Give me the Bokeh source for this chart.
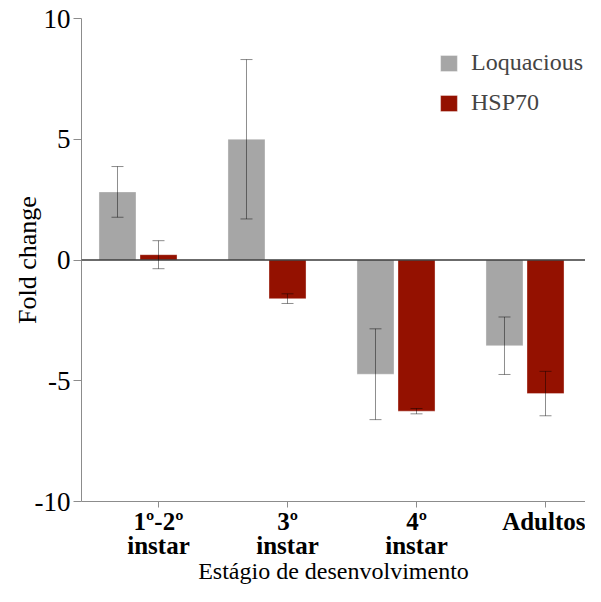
from bokeh.plotting import figure
from bokeh.models import (ColumnDataSource, Whisker, FixedTicker, Legend, LegendItem,
                          Span, Range1d, TeeHead)
from bokeh.embed import file_html
from bokeh.resources import INLINE

# ---- data ----
categories = ["1º-2º\ninstar", "3º\ninstar", "4º\ninstar", "Adultos"]
loquacious = [2.82, 5.0, -4.73, -3.55]
loquacious_err = [1.05, 3.3, 1.88, 1.19]
hsp70 = [0.22, -1.6, -6.26, -5.53]
hsp70_err = [0.58, 0.2, 0.11, 0.92]
y_ticks = [-10, -5, 0, 5, 10]
x_title = "Estágio de desenvolvimento"
y_title = "Fold change"

FONT = "Liberation Serif"
GRAY = "#a6a6a6"
RED = "#941100"
AXIS = "#8c8c8c"

pos = list(range(len(categories)))
x_loq = [p - 0.318 for p in pos]
x_hsp = [p + 0.0 for p in pos]

src_loq = ColumnDataSource(dict(
    x=x_loq, top=loquacious,
    upper=[v + e for v, e in zip(loquacious, loquacious_err)],
    lower=[v - e for v, e in zip(loquacious, loquacious_err)]))
src_hsp = ColumnDataSource(dict(
    x=x_hsp, top=hsp70,
    upper=[v + e for v, e in zip(hsp70, hsp70_err)],
    lower=[v - e for v, e in zip(hsp70, hsp70_err)]))

p = figure(width=585, height=586, output_backend="svg", toolbar_location=None,
           x_range=Range1d(-0.597, 3.310), y_range=Range1d(-10, 10),
           min_border_left=81, min_border_right=0, min_border_top=18, min_border_bottom=83)
p.outline_line_color = None
p.xgrid.visible = False
p.ygrid.visible = False

bw = 0.287
r_loq = p.vbar(x="x", top="top", bottom=0, width=bw, source=src_loq,
               fill_color=GRAY, line_color="white", line_alpha=0.35, line_width=1)
r_hsp = p.vbar(x="x", top="top", bottom=0, width=bw, source=src_hsp,
               fill_color=RED, line_color="white", line_alpha=0.35, line_width=1)

p.add_layout(Span(location=0, dimension="width", line_color="#3a3a3a", line_width=1.5))

for src in (src_loq, src_hsp):
    w = Whisker(source=src, base="x", upper="upper", lower="lower",
                line_color="black", line_alpha=0.45, line_width=1, level="annotation",
                upper_head=TeeHead(size=12, line_color="black", line_alpha=0.45, line_width=1),
                lower_head=TeeHead(size=12, line_color="black", line_alpha=0.45, line_width=1))
    p.add_layout(w)

# y axis
p.yaxis.ticker = FixedTicker(ticks=y_ticks)
p.yaxis.major_label_overrides = {t: str(t) for t in y_ticks}
p.yaxis.minor_tick_line_color = None
p.yaxis.major_tick_in = 0
p.yaxis.major_tick_out = 8
p.yaxis.axis_line_color = AXIS
p.yaxis.major_tick_line_color = AXIS
p.yaxis.major_label_text_font = FONT
p.yaxis.major_label_text_font_size = "27px"
p.yaxis.major_label_text_color = "black"
p.yaxis.major_label_standoff = 3
p.yaxis.axis_label = y_title
p.yaxis.axis_label_text_font = FONT
p.yaxis.axis_label_text_font_size = "26px"
p.yaxis.axis_label_text_font_style = "normal"
p.yaxis.axis_label_text_color = "black"
p.yaxis.axis_label_standoff = -10

# x axis
p.xaxis.ticker = FixedTicker(ticks=pos)
p.xaxis.major_label_overrides = {i: c for i, c in zip(pos, categories)}
p.xaxis.minor_tick_line_color = None
p.xaxis.major_tick_in = 0
p.xaxis.major_tick_out = 6
p.xaxis.axis_line_color = AXIS
p.xaxis.major_tick_line_color = AXIS
p.xaxis.major_label_text_font = FONT
p.xaxis.major_label_text_font_size = "25px"
p.xaxis.major_label_text_font_style = "bold"
p.xaxis.major_label_text_color = "black"
p.xaxis.major_label_text_line_height = 0.9
p.xaxis.major_label_standoff = 0
p.xaxis.axis_label = x_title
p.xaxis.axis_label_text_font = FONT
p.xaxis.axis_label_text_font_size = "24px"
p.xaxis.axis_label_text_font_style = "normal"
p.xaxis.axis_label_text_color = "black"
p.xaxis.axis_label_standoff = -4

legend = Legend(items=[LegendItem(label="Loquacious", renderers=[r_loq]),
                       LegendItem(label="HSP70", renderers=[r_hsp])],
                location=(357, 385), padding=0, margin=0, spacing=13,
                glyph_width=21, glyph_height=20, label_standoff=12,
                label_text_font=FONT, label_text_font_size="24px",
                border_line_color=None, background_fill_alpha=0)
p.add_layout(legend)

open("out.html", "w").write(file_html(p, INLINE))
